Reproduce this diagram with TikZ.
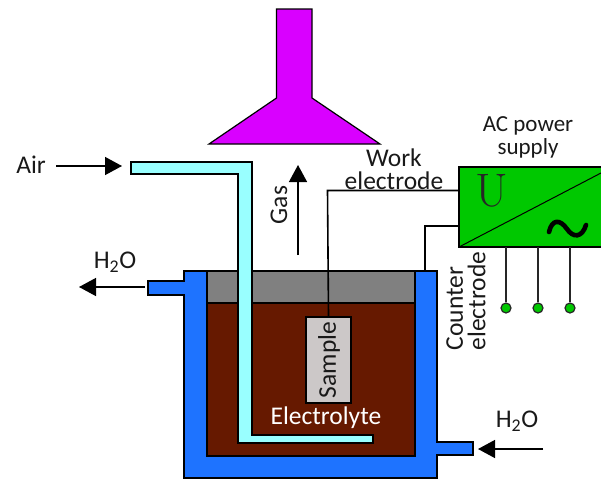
\documentclass[tikz,border=0pt]{standalone}
\usepackage{fontspec}
\setmainfont{Carlito}
\definecolor{hoodc}{RGB}{217,0,255}
\definecolor{tubec}{RGB}{153,255,255}
\definecolor{tankc}{RGB}{30,115,255}
\definecolor{greyc}{RGB}{128,128,128}
\definecolor{elecc}{RGB}{102,25,0}
\definecolor{samplec}{RGB}{204,200,200}
\definecolor{psuc}{RGB}{0,200,0}
\usetikzlibrary{arrows.meta}
\tikzset{
  part/.style={draw=black,line width=1.2pt,line join=miter},
  wire/.style={draw=black,line width=1.6pt},
  flow/.style={draw=black,line width=1.4pt,-{Triangle[length=17pt,width=18pt]}},
  lead/.style={draw=black!85,line width=1.6pt},
  term/.style={circle,draw=black!85,line width=1.2pt,fill=psuc,minimum size=10pt,inner sep=0pt},
  label/.style={font=\fontsize{25.5}{22.5}\selectfont,inner sep=0pt,text=black!90},
}
\begin{document}
\begin{tikzpicture}[x=1pt,y=-1pt]
\useasboundingbox (0,0) rectangle (601,479);
% hood
\path[part,fill=hoodc] (276.5,9) -- (312,9) -- (312,98) -- (380,144) -- (209,144) -- (276.5,98) -- cycle;
% tank
\path[part,fill=tankc] (184,271) -- (437,271) -- (437,442) -- (473,442) -- (473,455) -- (437,455) -- (437,478) -- (184,478) -- (184,295) -- (148,295) -- (148,281) -- (184,281) -- cycle;
\path[part,fill=elecc] (207,271) rectangle (415,456);
\path[part,fill=greyc] (207,271) rectangle (415,303);
% sample
\node[part,fill=samplec,minimum width=45pt,minimum height=86pt,inner sep=0pt] (sample) at (328.5,360) {};
\node[label,rotate=90] (sampletext) at (329,360) {Sample};
% air tube
\path[part,fill=tubec] (131,162) -- (252,162) -- (252,435) -- (373,435) -- (373,443) -- (238,443) -- (238,174) -- (131,174) -- cycle;
% power supply
\fill[psuc] (459,167) rectangle (601,247);
\draw[part] (601,167) -- (459,167) -- (459,247) -- (601,247);
\coordinate (psuin) at (459,190.5);
\coordinate (psuct) at (459,226);
\coordinate (tanktop) at (425,271);
\coordinate (diaga) at (459,247);
\coordinate (diagb) at (601,173);
\draw[wire,line width=1pt] (diaga) -- (diagb);
\node[font=\fontfamily{lmr}\fontsize{47}{47}\selectfont,inner sep=0pt,text=black!85] (u) at (492,191) {U};
\draw[black,line width=4.6pt,line cap=round] (549,232) .. controls (552,219) and (560,219) .. (567,229) .. controls (573,238) and (582,238) .. (586,225);
% wires
\draw[wire] (sample.north) -- (327.5,190.5) -- (psuin);
\draw[wire] (psuct) -- (425,226) -- (tanktop);
% terminals
\node[term] (t1) at (506,308) {};
\node[term] (t2) at (538,308) {};
\node[term] (t3) at (570,308) {};
\coordinate (l1) at (506,247);
\coordinate (l2) at (538,247);
\coordinate (l3) at (570,247);
\draw[lead] (l1) -- (t1);
\draw[lead] (l2) -- (t2);
\draw[lead] (l3) -- (t3);
% labels
\node[label] (air) at (31,165) {Air};
\node[label] (h2oa) at (115,262) {H\textsubscript{2}O};
\node[label] (h2ob) at (517,421) {H\textsubscript{2}O};
\node[label,rotate=90] (gas) at (279,205) {Gas};
\node[label,align=center] (work) at (394,169) {Work\\electrode};
\node[label,font=\fontsize{23}{23}\selectfont,align=center] (ac) at (528,137) {AC power\\supply};
\node[label,align=left,rotate=90] (counter) at (466,301) {Counter\\electrode};
\node[label,text=white] (elec) at (326,418) {Electrolyte};
% arrows
\coordinate (a1) at (56,166); \coordinate (a2) at (122,166);
\coordinate (g1) at (298,255); \coordinate (g2) at (298,165);
\coordinate (w1) at (145,287); \coordinate (w2) at (79,287);
\coordinate (r1) at (543,449); \coordinate (r2) at (478,449);
\draw[flow] (a1) -- (a2);
\draw[flow] (g1) -- (g2);
\draw[flow] (w1) -- (w2);
\draw[flow] (r1) -- (r2);
\end{tikzpicture}
\end{document}
